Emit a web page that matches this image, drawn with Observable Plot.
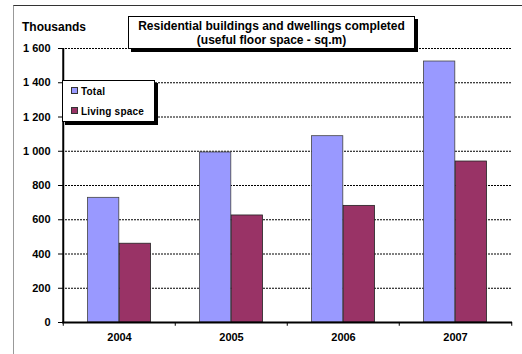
<!DOCTYPE html>
<html><head><meta charset="utf-8">
<script src="https://cdn.jsdelivr.net/npm/d3@7"></script>
<script src="https://cdn.jsdelivr.net/npm/@observablehq/plot@0.6"></script>
<style>
body{margin:0;background:#fff;font-family:"Liberation Sans",Arial,sans-serif;}
#wrap{position:relative;width:522px;height:354px;overflow:hidden;}
#frame{position:absolute;left:13px;top:5px;width:600px;height:400px;border-left:1px solid #999;border-top:1px solid #333;box-sizing:border-box;}
.box{position:absolute;background:#fff;border:1px solid #000;box-shadow:3px 3px 0 #000;box-sizing:border-box;font-weight:bold;}
#title{left:128px;top:16px;width:287px;height:33px;text-align:center;font-size:12px;line-height:14px;padding-top:2px;}
#legend{left:62px;top:80px;width:93px;height:42px;font-size:10px;}
.item{position:absolute;left:8px;height:12px;line-height:12px;letter-spacing:0.2px;}
.sw{display:inline-block;width:5px;height:5px;border:1px solid #333;margin-right:3px;vertical-align:1px;}
#thou{position:absolute;left:22px;top:20px;font-size:12px;font-weight:bold;}
</style></head>
<body>
<div id="wrap">
<div id="chart"></div>
<div id="frame"></div>
<div id="thou">Thousands</div>
<div class="box" id="title">Residential buildings and dwellings completed<br>(useful floor space - sq.m)</div>
<div class="box" id="legend">
<div class="item" style="top:5px"><span class="sw" id="sw0"></span>Total</div>
<div class="item" style="top:25px"><span class="sw" id="sw1"></span>Living space</div>
</div>
</div>
<script>
const years = ["2004", "2005", "2006", "2007"];
const totalValues = [728, 993, 1088, 1524];
const livingValues = [460, 625, 681, 940];
const seriesNames = ["Total", "Living space"];
const seriesColors = ["#9999FF", "#993366"];
const yTicks = [0, 200, 400, 600, 800, 1000, 1200, 1400, 1600];

document.getElementById("sw0").style.background = seriesColors[0];
document.getElementById("sw1").style.background = seriesColors[1];

const data = years.map((y, i) => ({year: y, total: totalValues[i], living: livingValues[i]}));
const fmt = d => d3.format(",")(d).replace(/,/g, " ");
const half = 450 / years.length / 2;

const chart = Plot.plot({
  width: 522,
  height: 354,
  marginLeft: 62,
  marginRight: 10,
  marginTop: 48,
  marginBottom: 32,
  style: {fontFamily: "'Liberation Sans', Arial, sans-serif", fontSize: "11px", fontWeight: "bold", color: "#000", background: "transparent"},
  x: {type: "band", domain: years, padding: 0, axis: null},
  y: {domain: [0, 1600], axis: null},
  marks: [
    Plot.ruleY(yTicks.filter(d => d > 0), {stroke: "#000", strokeWidth: 1, strokeDasharray: "2,1"}),
    Plot.barY(data, {x: "year", y: "total", fill: seriesColors[0], stroke: "#444", strokeWidth: 0.8, insetLeft: 24.5, insetRight: 56.2}),
    Plot.barY(data, {x: "year", y: "living", fill: seriesColors[1], stroke: "#222", strokeWidth: 0.8, insetLeft: 56.2, insetRight: 24.5}),
    Plot.ruleX([years[0]], {dx: -half, y1: 0, y2: 1600, stroke: "#000", strokeWidth: 2}),
    Plot.ruleY([0], {stroke: "#000", strokeWidth: 2}),
    Plot.ruleX(years, {dx: -half, y1: 0, y2: -22, stroke: "#000", strokeWidth: 1}),
    Plot.ruleX([years[years.length - 1]], {dx: half, y1: 0, y2: -22, stroke: "#000", strokeWidth: 1}),
    Plot.axisY({ticks: yTicks, tickSize: 4, tickPadding: 8, tickFormat: fmt, label: null, fontSize: 11, fontWeight: "bold"}),
    Plot.axisX({tickSize: 0, tickPadding: 11, label: null, fontSize: 11, fontWeight: "bold"})
  ]
});
document.getElementById("chart").appendChild(chart);
</script>
</body></html>
